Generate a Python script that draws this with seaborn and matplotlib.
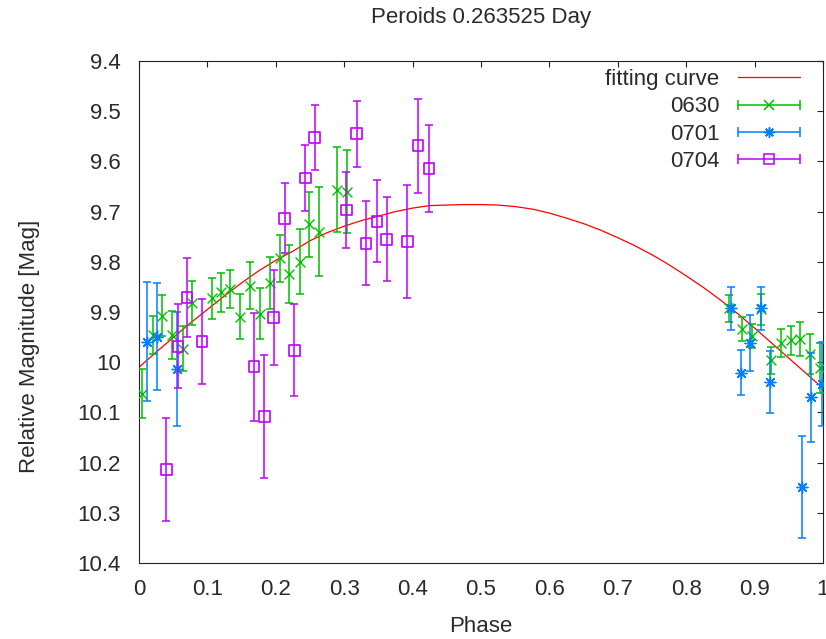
import numpy as np
import pandas as pd
import matplotlib
matplotlib.use("Agg")
import matplotlib.pyplot as plt
import seaborn as sns
from matplotlib.lines import Line2D
from matplotlib.legend_handler import HandlerBase

# ---------------- data ----------------
curve_x = [0.0, 0.025, 0.05, 0.075, 0.1, 0.125, 0.15, 0.175, 0.2, 0.225, 0.25,
           0.275, 0.3, 0.325, 0.35, 0.375, 0.4, 0.425, 0.45, 0.475, 0.5, 0.525,
           0.55, 0.575, 0.6, 0.625, 0.65, 0.675, 0.7, 0.725, 0.75, 0.775, 0.8,
           0.825, 0.85, 0.875, 0.9, 0.925, 0.95, 0.975, 1.0]
curve_y = [10.010, 9.980, 9.951, 9.922, 9.895, 9.868, 9.842, 9.818, 9.797, 9.779,
           9.758, 9.742, 9.729, 9.718, 9.709, 9.700, 9.693, 9.688, 9.687, 9.686,
           9.686, 9.687, 9.690, 9.695, 9.703, 9.713, 9.724, 9.737, 9.752, 9.768,
           9.786, 9.806, 9.828, 9.851, 9.876, 9.903, 9.932, 9.962, 9.992, 10.022,
           10.052]

x630 = [0.004, 0.020, 0.034, 0.048, 0.064, 0.077, 0.106, 0.120, 0.133, 0.147,
        0.163, 0.177, 0.191, 0.206, 0.219, 0.235, 0.249, 0.263, 0.290, 0.304,
        0.863, 0.881, 0.896, 0.910, 0.924, 0.939, 0.953, 0.967, 0.981, 0.995]
y630 = [10.063, 9.946, 9.907, 9.946, 9.973, 9.882, 9.873, 9.861, 9.855, 9.909,
        9.848, 9.903, 9.842, 9.793, 9.824, 9.800, 9.725, 9.740, 9.656, 9.660,
        9.893, 9.934, 9.948, 9.895, 9.996, 9.962, 9.956, 9.953, 9.984, 10.012]
e630 = [0.049, 0.038, 0.041, 0.047, 0.045, 0.044, 0.041, 0.039, 0.038, 0.045,
        0.047, 0.050, 0.052, 0.047, 0.058, 0.065, 0.065, 0.089, 0.084, 0.082,
        0.027, 0.024, 0.024, 0.030, 0.027, 0.028, 0.029, 0.034, 0.040, 0.050]

x701 = [0.011, 0.026, 0.056, 0.865, 0.880, 0.894, 0.910, 0.923, 0.969, 0.983, 0.998]
y701 = [9.959, 9.949, 10.014, 9.893, 10.021, 9.961, 9.893, 10.039, 10.249, 10.070, 10.043]
e701 = [0.118, 0.106, 0.114, 0.043, 0.045, 0.056, 0.042, 0.062, 0.102, 0.088, 0.084]

x704 = [0.040, 0.057, 0.070, 0.092, 0.168, 0.183, 0.197, 0.213, 0.227, 0.243,
        0.257, 0.303, 0.318, 0.332, 0.348, 0.362, 0.392, 0.408, 0.424]
y704 = [10.214, 9.968, 9.871, 9.959, 10.009, 10.108, 9.911, 9.713, 9.976, 9.633,
        9.553, 9.697, 9.545, 9.763, 9.719, 9.755, 9.760, 9.569, 9.614]
e704 = [0.103, 0.083, 0.079, 0.084, 0.108, 0.123, 0.095, 0.069, 0.091, 0.066,
        0.065, 0.076, 0.066, 0.084, 0.082, 0.084, 0.112, 0.094, 0.086]

series_names = ["0630", "0701", "0704"]
x_ticks = [0, 0.1, 0.2, 0.3, 0.4, 0.5, 0.6, 0.7, 0.8, 0.9, 1.0]
x_ticklabels = ["0", "0.1", "0.2", "0.3", "0.4", "0.5", "0.6", "0.7", "0.8", "0.9", "1"]
y_ticks = [9.4, 9.5, 9.6, 9.7, 9.8, 9.9, 10.0, 10.1, 10.2, 10.3, 10.4]
y_ticklabels = ["9.4", "9.5", "9.6", "9.7", "9.8", "9.9", "10", "10.1", "10.2", "10.3", "10.4"]

# ---------------- style ----------------
RED = "#ff0000"
GREEN = "#00c000"
BLUE = "#0080ff"
MAG = "#c000ff"
TXT = "#2a2a2a"
FS = 16

sns.set_theme(style="white")
plt.rcParams["font.family"] = ["Liberation Sans", "DejaVu Sans"]

W, H = 826, 639
fig = plt.figure(figsize=(W / 100, H / 100), dpi=100)
ax = fig.add_axes([139 / W, 1 - 563 / H, 684 / W, 502 / H])

curve_df = pd.DataFrame({"phase": curve_x, "mag": curve_y})
sns.lineplot(data=curve_df, x="phase", y="mag", color=RED, linewidth=0.9,
             ax=ax, zorder=2, sort=False, estimator=None)

specs = [
    (x630, y630, e630, GREEN, "x", 50, 3),
    (x701, y701, e701, BLUE, (8, 2, 0), 60, 4),
    (x704, y704, e704, MAG, "s", 60, 5),
]
for xs, ys, es, col, mk, s, z in specs:
    ax.errorbar(xs, ys, yerr=es, fmt="none", ecolor=col, elinewidth=1.1,
                capsize=3.2, capthick=1.1, zorder=z)
    df = pd.DataFrame({"phase": xs, "mag": ys})
    if mk == "s":
        sns.scatterplot(data=df, x="phase", y="mag", marker="s", s=s,
                        facecolor="none", edgecolor=col, linewidth=1.2,
                        ax=ax, zorder=z + 0.5, legend=False)
    else:
        sns.scatterplot(data=df, x="phase", y="mag", marker=mk, s=s,
                        color=col, linewidth=1.0, ax=ax, zorder=z + 0.5,
                        legend=False)

ax.set_xlim(0, 1)
ax.set_ylim(10.4, 9.4)
ax.set_xticks(x_ticks)
ax.set_xticklabels(x_ticklabels)
ax.set_yticks(y_ticks)
ax.set_yticklabels(y_ticklabels)
ax.set_xlabel("")
ax.set_ylabel("")
ax.tick_params(axis="both", direction="in", length=4.5, width=0.8,
               colors="#222222", labelcolor=TXT, labelsize=FS,
               top=True, right=True)
ax.tick_params(axis="y", pad=13)
ax.tick_params(axis="x", pad=11.5)
for sp in ax.spines.values():
    sp.set_visible(True)
    sp.set_color("#222222")
    sp.set_linewidth(0.8)

fig.text(481 / W, 1 - 18 / H, "Peroids 0.263525 Day", ha="center", va="center",
         fontsize=FS, color=TXT)
fig.text(481 / W, 1 - 627 / H, "Phase", ha="center", va="center",
         fontsize=FS, color=TXT)
fig.text(30 / W, 1 - 346 / H, "Relative Magnitude [Mag]", ha="center",
         va="center", rotation=90, fontsize=FS, color=TXT)


# ---------------- legend (gnuplot-like samples) ----------------
class HErr(HandlerBase):
    def __init__(self, color, marker=None, ms=7, filled=True, errbar=True):
        super().__init__()
        self.color, self.marker, self.ms = color, marker, ms
        self.filled, self.errbar = filled, errbar

    def create_artists(self, legend, orig_handle, xdescent, ydescent, width,
                       height, fontsize, trans):
        y = height / 2 - ydescent
        x0, x1 = -xdescent, -xdescent + width
        arts = [Line2D([x0, x1], [y, y], color=self.color,
                       lw=1.1 if self.errbar else 0.9, transform=trans)]
        if self.errbar:
            arts.append(Line2D([x0, x1], [y, y], ls="none", marker="|",
                               ms=6.5, mew=1.1, color=self.color,
                               transform=trans))
        if self.marker is not None:
            arts.append(Line2D([(x0 + x1) / 2], [y], ls="none",
                               marker=self.marker, ms=self.ms, mew=1.1,
                               color=self.color,
                               mfc=self.color if self.filled else "none",
                               transform=trans))
        return arts


h_fit = Line2D([], [])
h_630 = Line2D([], [])
h_701 = Line2D([], [])
h_704 = Line2D([], [])
leg = ax.legend(
    [h_fit, h_630, h_701, h_704],
    ["fitting curve"] + series_names,
    handler_map={
        h_fit: HErr(RED, errbar=False),
        h_630: HErr(GREEN, "x", 7),
        h_701: HErr(BLUE, (8, 2, 0), 7.5),
        h_704: HErr(MAG, "s", 7, filled=False),
    },
    loc="upper right", bbox_to_anchor=(0.982, 1.006), borderpad=0,
    frameon=False, markerfirst=False, handlelength=2.75, handletextpad=0.85,
    labelspacing=0.28, fontsize=FS, labelcolor=TXT,
)

fig.savefig("out.png", dpi=100)
